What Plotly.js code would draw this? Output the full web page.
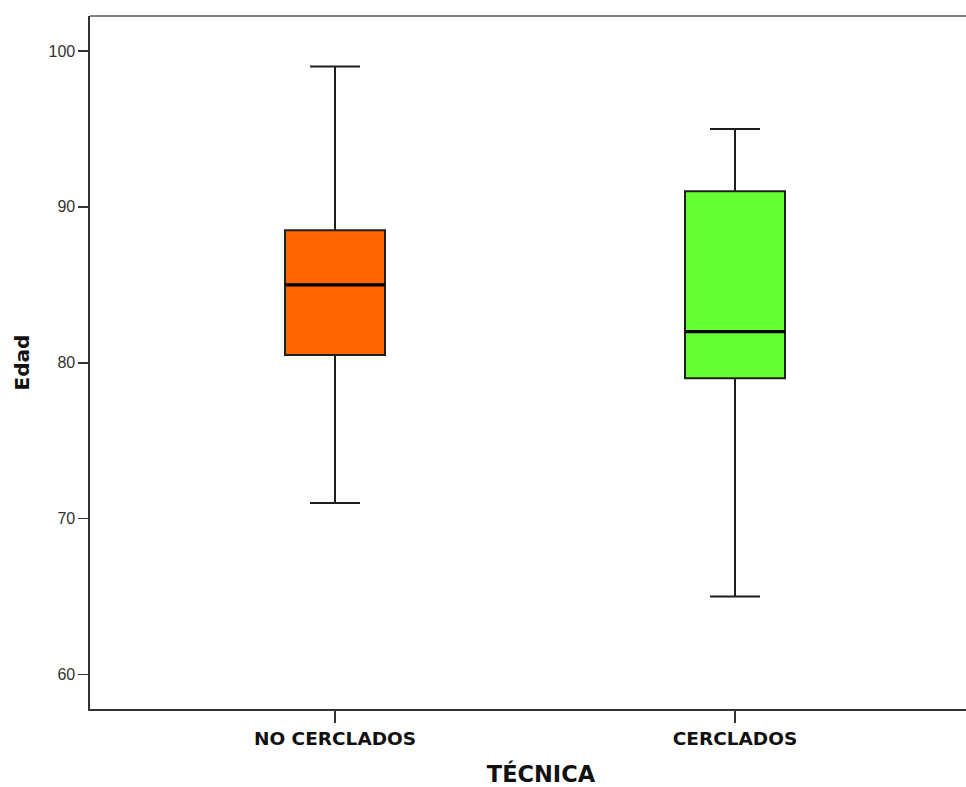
<!DOCTYPE html>
<html>
<head>
<meta charset="utf-8">
<script src="https://cdn.plot.ly/plotly-3.0.1.min.js"></script>
<style>
html,body{margin:0;padding:0;overflow:hidden;background:#fff;}
#chart{width:992px;height:787px;}
</style>
</head>
<body>
<div id="chart"></div>
<script>
// Data
const categories = ["NO CERCLADOS", "CERCLADOS"];
const lowerWhisker = [71, 65];
const q1Values = [80.5, 79];
const medianValues = [85, 82];
const q3Values = [88.5, 91];
const upperWhisker = [99, 95];
const boxColors = ["#FF6600", "#66FF33"];
const yTicks = [60, 70, 80, 90, 100];

const boxWidth = 0.25;

const traces = categories.map((c, i) => ({
  type: "box",
  x: [c],
  q1: [q1Values[i]],
  median: [medianValues[i]],
  q3: [q3Values[i]],
  lowerfence: [lowerWhisker[i]],
  upperfence: [upperWhisker[i]],
  width: boxWidth,
  whiskerwidth: 0.5,
  fillcolor: boxColors[i],
  line: {color: "#1e1e1e", width: 2},
  boxpoints: false,
  hoverinfo: "skip",
  showlegend: false
}));

const shapes = categories.map((c, i) => ({
  type: "line", xref: "x", yref: "y",
  x0: i - boxWidth / 2, x1: i + boxWidth / 2,
  y0: medianValues[i], y1: medianValues[i],
  line: {color: "#000000", width: 3.2}
}));
shapes.push({
  type: "line", xref: "paper", yref: "paper",
  x0: 0, x1: 1, y0: 1, y1: 1,
  line: {color: "#808080", width: 2.2}
});

const layout = {
  width: 992, height: 787,
  margin: {l: 90, r: 0, t: 16, b: 78},
  paper_bgcolor: "#ffffff",
  plot_bgcolor: "#ffffff",
  showlegend: false,
  shapes: shapes,
  xaxis: {
    type: "category",
    range: [-0.6125, 1.6425],
    showgrid: false, zeroline: false,
    showline: true, linecolor: "#333333", linewidth: 1.6,
    ticks: "outside", ticklen: 12, tickwidth: 1.6, tickcolor: "#333333",
    tickfont: {family: "DejaVu Sans", size: 18.5, color: "#111111", weight: "bold"},
    title: {text: "<b>TÉCNICA</b>", font: {family: "DejaVu Sans", size: 22.5, color: "#111111"}, standoff: 21}
  },
  yaxis: {
    range: [57.79, 102.24],
    tickvals: yTicks,
    showgrid: false, zeroline: false,
    showline: true, linecolor: "#333333", linewidth: 1.6,
    ticks: "outside", ticklen: 10, tickwidth: 1.6, tickcolor: "#333333",
    tickfont: {family: "Liberation Sans", size: 16, color: "#333333"},
    title: {text: "<b>Edad</b>", font: {family: "DejaVu Sans", size: 20, color: "#111111"}, standoff: 13}
  }
};

Plotly.newPlot("chart", traces, layout, {staticPlot: true, displayModeBar: false});
</script>
</body>
</html>
